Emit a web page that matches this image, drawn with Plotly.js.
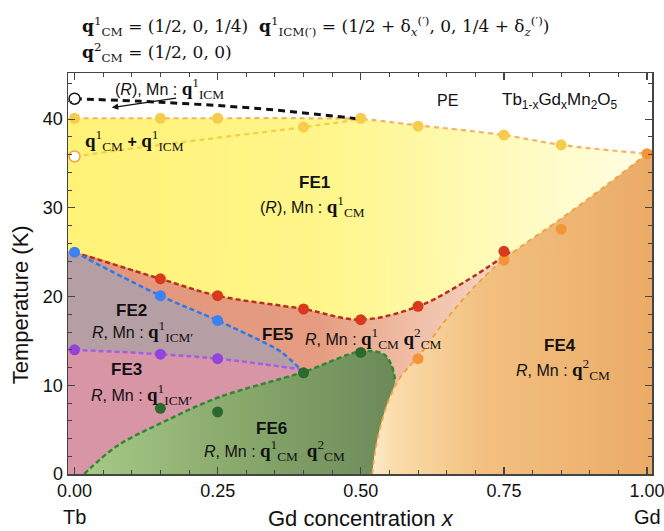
<!DOCTYPE html>
<html><head><meta charset="utf-8">
<script src="https://cdn.plot.ly/plotly-3.0.1.min.js"></script>
<style>html,body{margin:0;padding:0;background:#fff}</style>
</head><body><div id="chart" style="width:664px;height:531px"></div>
<script>
// ---- boundaries (x = Gd concentration, T in K) ----
const peX  = [0, 0.15, 0.25, 0.4, 0.5, 0.6, 0.75, 0.85, 1.0];
const peT  = [40.1, 40.1, 40.1, 40.1, 40.0, 39.3, 38.2, 37.1, 36.1];
const icmX = [0, 0.15, 0.4, 0.5];
const icmT = [35.8, 37.1, 39.1, 40.0];
const blkX = [0, 0.15, 0.32, 0.5];
const blkT = [42.3, 41.9, 41.2, 40.0];
const redX = [0, 0.15, 0.25, 0.4, 0.5, 0.6, 0.68, 0.765];
const redT = [25.0, 22.0, 20.1, 18.6, 17.4, 18.9, 21.6, 25.2];
const blueX = [0, 0.15, 0.25, 0.30, 0.335, 0.36, 0.395];
const blueT = [25.0, 20.1, 17.3, 15.8, 14.7, 13.8, 11.8];
const purX = [0, 0.15, 0.25, 0.395];
const purT = [14.0, 13.5, 13.0, 11.8];
const grnX = [0.017, 0.073, 0.15, 0.25, 0.4, 0.5, 0.54, 0.554, 0.56];
const grnT = [0, 3.1, 5.7, 8.6, 11.5, 13.8, 13.5, 12.2, 10.5];
const fe6EdgeX = [0.55, 0.535, 0.525, 0.52];
const fe6EdgeT = [8.5, 5.5, 2.5, 0];
const fe4X = [0.52, 0.525, 0.535, 0.55, 0.57, 0.6, 0.65, 0.7, 0.75, 0.85, 0.93, 1.0];
const fe4T = [0, 2.5, 5.5, 8.5, 11, 13.2, 17.5, 21.2, 24.2, 28.8, 32.6, 36.1];

// ---- measured points ----
const yelX = [0, 0.15, 0.25, 0.4, 0.5, 0.6, 0.75, 0.85];
const yelT = [40.1, 40.1, 40.1, 39.1, 40.1, 39.2, 38.2, 37.1];
const orgX = [1.0, 0.85, 0.75, 0.6];
const orgT = [36.1, 27.6, 24.1, 13.0];
const redPX = [0.15, 0.25, 0.4, 0.5, 0.6, 0.75];
const redPT = [22.0, 20.1, 18.6, 17.4, 18.9, 25.1];
const bluPX = [0, 0.15, 0.25];
const bluPT = [25.0, 20.1, 17.3];
const purPX = [0, 0.15, 0.25];
const purPT = [14.0, 13.5, 13.0];
const grnPX = [0.15, 0.25, 0.4, 0.5];
const grnPT = [7.4, 7.0, 11.4, 13.7];
const openX = [0, 0];
const openT = [42.3, 35.8];
const openC = ['#111111', '#f0a040'];

const XL = -0.03, XR = 1.03;
function extL(xs, ts){ return [[XL].concat(xs), [ts[0]].concat(ts)]; }

const sp = {shape:'spline', smoothing:1};
const traces = [];
function fillTrace(xs, ts, fill, grad, color){
  const t = {x:xs, y:ts, mode:'lines', line:Object.assign({width:0}, sp), fill:fill, hoverinfo:'skip', showlegend:false};
  if (grad) t.fillgradient = {type:'horizontal', colorscale:grad.cs, start:grad.start, stop:grad.stop};
  else t.fillcolor = color;
  traces.push(t);
}
// FE1 yellow
let [a,b] = extL(peX, peT);
fillTrace(a.concat([XR]), b.concat([35.9]), 'tozeroy',
  {cs:[[0,'#fff277'],[0.45,'#fff68c'],[0.8,'#fffbc4'],[1,'#fffde2']], start:0, stop:1});
// FE5 salmon
[a,b] = extL(redX, redT);
fillTrace(a, b, 'tozeroy',
  {cs:[[0,'#e2967c'],[0.55,'#e59c80'],[0.75,'#efbca3'],[1,'#f6d8c8']], start:0, stop:0.77});
// FE3 pink
[a,b] = extL(purX, purT);
fillTrace(a, b, 'tozeroy', null, '#d895a6');
// FE2 grey (to purple)
[a,b] = extL(blueX, blueT);
fillTrace(a, b, 'tonexty', null, '#b69ea5');
// FE6 green
fillTrace(grnX.concat(fe6EdgeX), grnT.concat(fe6EdgeT), 'toself',
  {cs:[[0,'#a6c986'],[0.5,'#88a86c'],[1,'#6c8a59']], start:0.02, stop:0.56});
// FE4 orange
fillTrace(fe4X.concat([1.06, 1.06]), fe4T.concat([39, -1]), 'toself',
  {cs:[[0,'#fdebcc'],[0.08,'#fadcaa'],[0.4,'#f2c080'],[1,'#ebac68']], start:0.52, stop:1.0});

// dashed boundary lines
function dl(xs, ts, color, w, dash){
  traces.push({x:xs, y:ts, mode:'lines', line:Object.assign({color:color, width:w, dash:dash}, sp), hoverinfo:'skip', showlegend:false});
}
dl(peX, peT, '#f5b464', 2.2, '5px,4px');
dl(icmX, icmT, '#f3cf48', 2.2, '5px,4px');
dl(fe4X, fe4T, '#f0a040', 1.8, '5px,4px');
dl(redX, redT, '#b8301c', 2.5, '5px,3px');
dl(blueX, blueT, '#2f78e8', 2.5, '5px,3px');
dl(purX, purT, '#a45ee8', 2.5, '5px,3px');
dl(grnX, grnT, '#2e8a30', 2.5, '5px,3px');
dl(blkX, blkT, '#111111', 3, '7px,5px');

// markers
function pts(xs, ts, color){
  traces.push({x:xs, y:ts, mode:'markers', marker:{size:11, color:color, line:{width:0}}, cliponaxis:false, hoverinfo:'skip', showlegend:false});
}
pts(yelX, yelT, '#f6cc4c');
pts(orgX, orgT, '#f39436');
pts(redPX, redPT, '#d93a1e');
pts(bluPX, bluPT, '#3b82f4');
pts(purPX, purPT, '#9444dc');
pts(grnPX, grnPT, '#2b6a2c');
traces.push({x:openX, y:openT, mode:'markers', marker:{size:11, color:'#ffffff', line:{width:1.5, color:openC}}, cliponaxis:false, hoverinfo:'skip', showlegend:false});

const SANS = 'Liberation Sans, Arial, sans-serif';
const SERIF = 'DejaVu Serif, serif';
function q(sup, sub){ return '<span style="font-family:Liberation Serif;font-size:19px"><b>q</b><sup>'+sup+'</sup><sub>'+sub+'</sub></span>'; }
function ann(x, y, text, size, extra){
  return Object.assign({x:x, y:y, xref:'x', yref:'y', text:text, showarrow:false, font:{family:SANS, size:size, color:'#111'}}, extra||{});
}
const annotations = [
  ann(0.42, 32.9, '<b>FE1</b>', 17),
  ann(0.416, 30.2, '(<i>R</i>), Mn : ' + q('1','CM'), 16),
  ann(0.10, 18.4, '<b>FE2</b>', 17),
  ann(0.119, 16.1, '<i>R</i>, Mn : ' + q('1',"ICM′"), 16),
  ann(0.091, 11.8, '<b>FE3</b>', 17),
  ann(0.117, 9.0, '<i>R</i>, Mn : ' + q('1',"ICM′"), 16),
  ann(0.355, 15.7, '<b>FE5</b>', 17),
  ann(0.523, 15.3, '<i>R</i>, Mn : ' + q('1','CM') + ' ' + q('2','CM'), 16),
  ann(0.848, 14.5, '<b>FE4</b>', 17),
  ann(0.853, 11.8, '<i>R</i>, Mn : ' + q('2','CM'), 16),
  ann(0.344, 5.1, '<b>FE6</b>', 17),
  ann(0.35, 2.6, '<i>R</i>, Mn : ' + q('1','CM') + '  ' + q('2','CM'), 16),
  ann(0.166, 43.4, '(<i>R</i>), Mn : ' + q('1','ICM'), 16),
  ann(0.105, 37.6, q('1','CM') + ' <b>+</b> ' + q('1','ICM'), 16),
  ann(0.652, 42.1, 'PE', 16),
  ann(0.848, 42.1, 'Tb<sub>1-x</sub>Gd<sub>x</sub>Mn<sub>2</sub>O<sub>5</sub>', 17),
  // arrow
  {x:0.065, y:41.3, ax:0.18, ay:42.4, xref:'x', yref:'y', axref:'x', ayref:'y', text:'', showarrow:true, arrowhead:2, arrowsize:1, arrowwidth:1.3, arrowcolor:'#111'},
  // top formulas
  {x:0.0205, y:1.115, xref:'paper', yref:'paper', xanchor:'left', yanchor:'middle', showarrow:false,
   font:{family:SERIF, size:17, color:'#111'},
   text:'<b>q</b><sup>1</sup><sub>CM</sub> = (1/2, 0, 1/4)  <b>q</b><sup>1</sup><sub>ICM(′)</sub> = (1/2 + δ<sub><i>x</i></sub><sup>(′)</sup>, 0, 1/4 + δ<sub><i>z</i></sub><sup>(′)</sup>)'},
  {x:0.0205, y:1.05, xref:'paper', yref:'paper', xanchor:'left', yanchor:'middle', showarrow:false,
   font:{family:SERIF, size:17, color:'#111'},
   text:'<b>q</b><sup>2</sup><sub>CM</sub> = (1/2, 0, 0)'},
  // axis titles & end labels
  {x:0.5, y:-0.11, xref:'x', yref:'paper', yanchor:'middle', showarrow:false, font:{family:SANS, size:22, color:'#111'}, text:'Gd concentration <i>x</i>'},
  {x:0.0, y:-0.107, xref:'x', yref:'paper', yanchor:'middle', showarrow:false, font:{family:SANS, size:20, color:'#111'}, text:'Tb'},
  {x:1.0, y:-0.107, xref:'x', yref:'paper', yanchor:'middle', showarrow:false, font:{family:SANS, size:20, color:'#111'}, text:'Gd'},
  {x:-0.082, y:0.421, xref:'paper', yref:'paper', xanchor:'center', yanchor:'middle', textangle:-90, showarrow:false, font:{family:SANS, size:22, color:'#111'}, text:'Temperature (K)'}
];

const axCommon = {showgrid:false, zeroline:false, showline:true, linecolor:'#444', linewidth:1.5, mirror:'ticks',
  ticks:'inside', ticklen:7, tickwidth:1.2, tickcolor:'#444', ticklabeloverflow:'allow',
  tickfont:{family:SANS, size:18, color:'#111'}};
const layout = {
  width:664, height:531, margin:{l:68, r:12, t:73, b:57},
  paper_bgcolor:'#fff', plot_bgcolor:'#fff', showlegend:false,
  xaxis:Object.assign({}, axCommon, {range:[-0.0114, 1.0087], tickmode:'linear', tick0:0, dtick:0.25, tickformat:'.2f',
    minor:{dtick:0.05, tick0:0, ticks:'inside', ticklen:4, tickcolor:'#444', tickwidth:1}}),
  yaxis:Object.assign({}, axCommon, {range:[0, 45.2], tickmode:'linear', tick0:0, dtick:10,
    minor:{dtick:2, tick0:0, ticks:'inside', ticklen:4, tickcolor:'#444', tickwidth:1}}),
  annotations:annotations
};
Plotly.newPlot('chart', traces, layout, {displayModeBar:false, staticPlot:true});
</script></body></html>
